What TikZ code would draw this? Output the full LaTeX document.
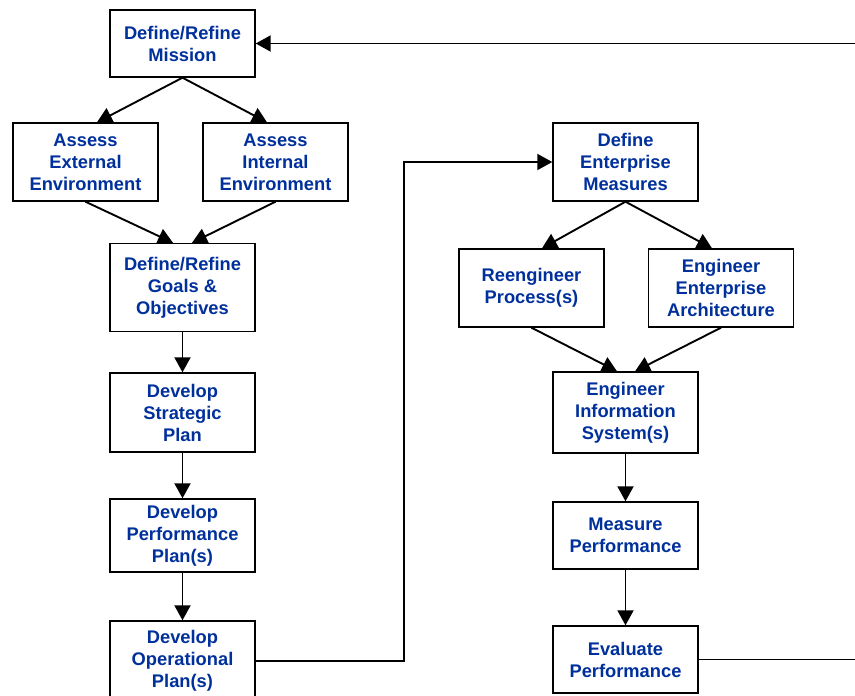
\documentclass[tikz,border=0pt]{standalone}
\usepackage{fontspec}
\setmainfont{Liberation Sans}
\usetikzlibrary{arrows.meta}
\definecolor{txtblue}{RGB}{0,48,155}
\tikzset{
  box/.style={draw, line width=1.4pt, fill=white, align=center, inner sep=0pt,
    font=\bfseries\fontsize{18.3}{22}\selectfont, text=txtblue, minimum width=145pt},
  arr/.style={line width=1.9pt, -{Triangle[width=16pt,length=15pt]}},
  ln/.style={line width=1.9pt}
}
\begin{document}
\begin{tikzpicture}[x=1pt,y=-1pt]
\useasboundingbox (0,0) rectangle (855,696);
\clip (0,0) rectangle (855,696);
% left column
\node[box, minimum height=67pt] (mission) at (182.5,43.5) {Define/Refine\\Mission};
\node[box, minimum height=78pt] (ext) at (85.5,162) {Assess\\External\\Environment};
\node[box, minimum height=78pt] (int) at (275.5,162) {Assess\\Internal\\Environment};
\node[box, minimum height=88pt] (goals) at (182.5,287.5) {Define/Refine\\Goals \&\\Objectives};
\node[box, minimum height=79pt] (strat) at (182.5,412.5) {Develop\\Strategic\\Plan};
\node[box, minimum height=73pt] (perf) at (182.5,535.5) {Develop\\Performance\\Plan(s)};
\node[box, minimum height=80pt] (oper) at (182.5,661) {Develop\\Operational\\Plan(s)};
% right column
\node[box, minimum height=78pt] (meas) at (625.5,162) {Define\\Enterprise\\Measures};
\node[box, minimum height=78pt] (reeng) at (531.5,288) {Reengineer\\Process(s)};
\node[box, minimum height=78pt] (arch) at (721,288) {Engineer\\Enterprise\\Architecture};
\node[box, minimum height=81pt] (info) at (625.5,412.5) {Engineer\\Information\\System(s)};
\node[box, minimum height=67pt] (mperf) at (625.5,535.5) {Measure\\Performance};
\node[box, minimum height=67pt] (eperf) at (625.5,659.5) {Evaluate\\Performance};
% off-picture ends
\coordinate (fbin) at (860,43.5);
\coordinate (fbout) at (860,659.5);
% connectors left
\draw[arr] (mission.south) -- ([xshift=11.5pt]ext.north);
\draw[arr] (mission.south) -- ([xshift=-8.5pt]int.north);
\draw[arr] (ext.south) -- ([xshift=-9.5pt]goals.north);
\draw[arr] (int.south) -- ([xshift=9.5pt]goals.north);
\draw[arr] (goals) -- (strat);
\draw[arr] (strat) -- (perf);
\draw[arr] (perf) -- (oper);
\draw[arr] (oper.east) -- ++(148,0) |- (meas.west);
% connectors right
\draw[arr] (meas.south) -- ([xshift=10.5pt]reeng.north);
\draw[arr] (meas.south) -- ([xshift=-9pt]arch.north);
\draw[arr] (reeng.south) -- ([xshift=-8.5pt]info.north);
\draw[arr] (arch.south) -- ([xshift=9.5pt]info.north);
\draw[arr] (info) -- (mperf);
\draw[arr] (mperf) -- (eperf);
% feedback
\draw[ln] (eperf.east) -- (fbout);
\draw[arr] (fbin) -- (mission.east);
\end{tikzpicture}
\end{document}
